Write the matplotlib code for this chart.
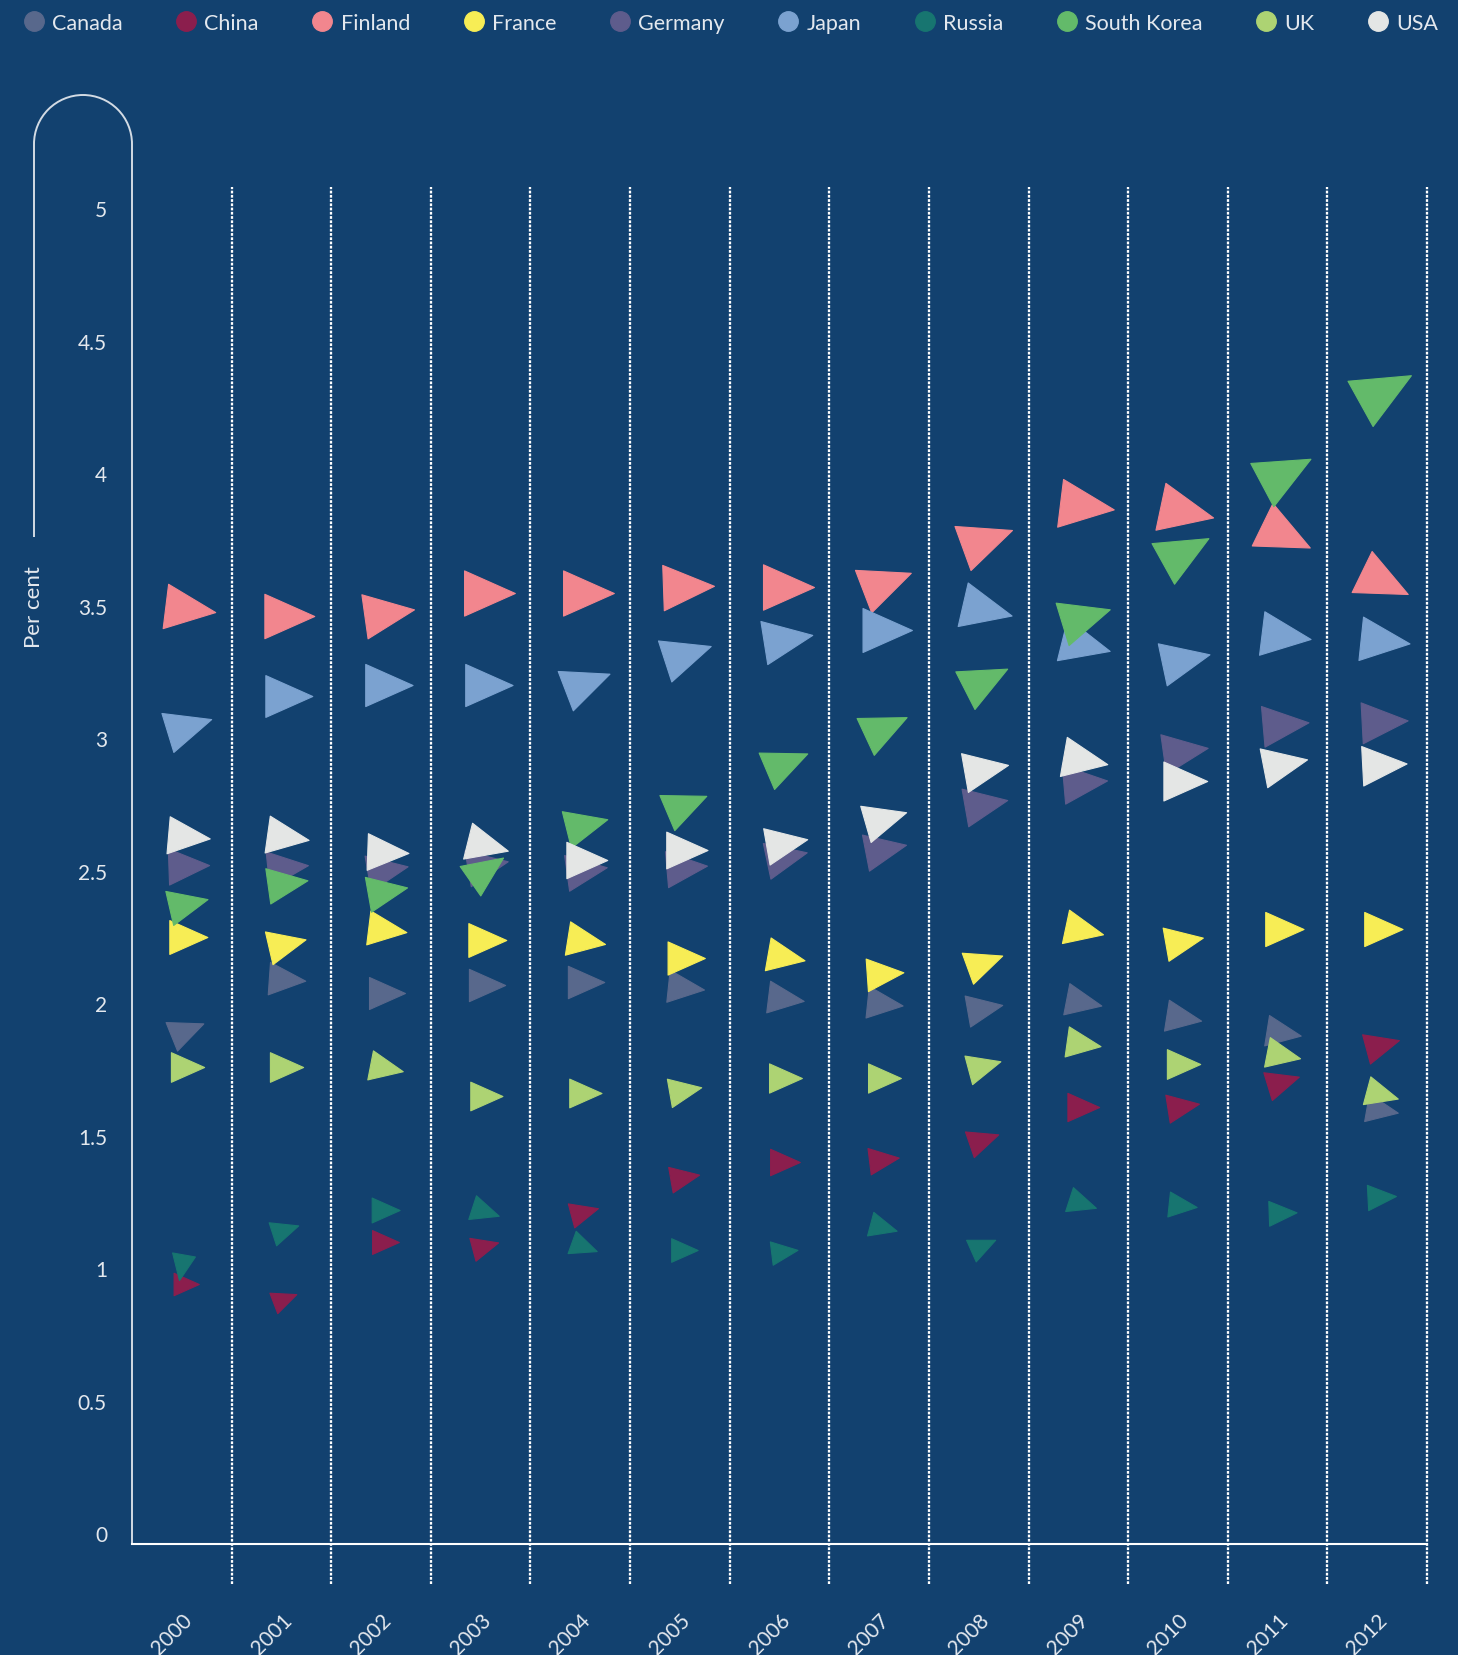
import matplotlib
matplotlib.use("Agg")
import matplotlib.pyplot as plt
import numpy as np
from matplotlib.path import Path
from matplotlib.markers import MarkerStyle
from matplotlib.transforms import Affine2D, blended_transform_factory
from matplotlib.patches import Arc
from matplotlib.lines import Line2D

plt.rcParams['font.family'] = ['Lato', 'DejaVu Sans']

# ---------------- data ----------------
years = [2000, 2001, 2002, 2003, 2004, 2005, 2006, 2007, 2008, 2009, 2010, 2011, 2012]
countries = ["Canada", "China", "Finland", "France", "Germany", "Japan",
             "Russia", "South Korea", "UK", "USA"]
colors = ["#58688C", "#8B1E4D", "#F2868E", "#F7ED55", "#5E5C8C", "#7BA2D0",
          "#177570", "#63BA6A", "#ADD373", "#E4E6E5"]

canada      = [1.89, 2.09, 2.04, 2.07, 2.08, 2.06, 2.02, 2.00, 1.98, 2.01, 1.95, 1.89, 1.60]
china       = [0.94, 0.88, 1.10, 1.08, 1.21, 1.34, 1.40, 1.41, 1.48, 1.61, 1.61, 1.70, 1.84]
finland     = [3.49, 3.46, 3.47, 3.55, 3.55, 3.57, 3.57, 3.58, 3.74, 3.88, 3.86, 3.78, 3.60]
france      = [2.25, 2.22, 2.28, 2.24, 2.24, 2.17, 2.18, 2.11, 2.15, 2.28, 2.23, 2.28, 2.28]
germany     = [2.52, 2.51, 2.50, 2.52, 2.50, 2.51, 2.55, 2.58, 2.75, 2.83, 2.95, 3.05, 3.06]
japan       = [3.04, 3.16, 3.20, 3.20, 3.20, 3.31, 3.37, 3.41, 3.49, 3.36, 3.29, 3.39, 3.37]
russia      = [1.02, 1.14, 1.22, 1.22, 1.09, 1.07, 1.06, 1.16, 1.08, 1.25, 1.24, 1.21, 1.27]
south_korea = [2.37, 2.45, 2.42, 2.49, 2.67, 2.74, 2.90, 3.03, 3.21, 3.45, 3.69, 3.99, 4.30]
uk          = [1.76, 1.76, 1.76, 1.65, 1.66, 1.67, 1.72, 1.72, 1.76, 1.85, 1.77, 1.81, 1.66]
usa         = [2.63, 2.63, 2.57, 2.60, 2.54, 2.58, 2.60, 2.69, 2.88, 2.92, 2.84, 2.90, 2.90]

# marker rotation (degrees, counter-clockwise)
rot_canada  = [22, -4, 0, 0, 0, -6, -7, -6, 10, -11, -9, -9, -10]
rot_china   = [0, 21, 0, 15, 15, 10, 0, 7, 19, 0, 9, 17, 15]
rot_finland = [-7, 0, 8, 0, 0, 2, 0, 21, 20, -7, -12, -26, -26]
rot_france  = [0, 13, -7, 0, -9, 0, -10, 4, 20, -12, 10, 0, 0]
rot_germany = [2, 6, 10, 10, 8, 5, 12, 11, 10, 5, 8, 5, 3]
rot_japan   = [17, 0, 0, 0, 21, 18, 9, 0, -13, -14, 12, -7, -6]
rot_russia  = [-100, 18, 0, -18, -20, 0, 7, -15, 24, -18, -6, 2, 3]
rot_korea   = [13, 8, 10, 35, 14, 23, 23, 25, 27, 17, 29, 28, 29]
rot_uk      = [0, 0, -11, 0, 0, 10, 0, 0, 15, -8, 0, -11, -15]
rot_usa     = [-5, -8, -2, -14, 0, 0, 10, 16, 10, -10, 0, 11, 3]

series = [canada, china, finland, france, germany, japan, russia, south_korea, uk, usa]
rotations = [rot_canada, rot_china, rot_finland, rot_france, rot_germany, rot_japan,
             rot_russia, rot_korea, rot_uk, rot_usa]
yticks = [0, 0.5, 1, 1.5, 2, 2.5, 3, 3.5, 4, 4.5, 5]

# ---------------- style ----------------
BG = "#12416F"
TXT = "#E3E8EE"
W, H = 1458, 1656

fig = plt.figure(figsize=(W / 100, H / 100), dpi=100)
fig.patch.set_facecolor(BG)

# overlay in pixel units for the decorative axis arc
ov = fig.add_axes([0, 0, 1, 1], zorder=0)
ov.set_xlim(0, W)
ov.set_ylim(H, 0)
ov.axis("off")
ov.patch.set_alpha(0)
line_col = "#D3DBE4"
ov.plot([34, 34], [538, 145], color=line_col, lw=1.4, solid_capstyle="butt")
ov.plot([132, 132], [145, 1545], color=line_col, lw=1.4, solid_capstyle="butt")
ov.add_patch(Arc((83, 145), 98, 98, theta1=180, theta2=360, color=line_col, lw=1.4))

ax = fig.add_axes([132 / W, (H - 1545) / H, (1427 - 132) / W, (1545 - 188) / H], zorder=1)
ax.patch.set_alpha(0)
ax.set_xlim(-0.5, len(years) - 0.5)
ax.set_ylim(-0.04, 5.08)
for s in ["top", "right", "left"]:
    ax.spines[s].set_visible(False)
ax.spines["bottom"].set_color("white")
ax.spines["bottom"].set_linewidth(1.5)

ax.set_yticks(yticks)
ax.set_yticklabels([f"{t:g}" for t in yticks])
ax.tick_params(axis="y", length=0, pad=18, labelsize=15, labelcolor=TXT)
ax.set_xticks([])

# dotted separators
ax.vlines(np.arange(0.5, len(years), 1.0), -0.19, 5.08, colors="white",
          linestyles=(0, (1.2, 0.65)), linewidth=1.65, clip_on=False)

# rotated year labels
bt = blended_transform_factory(ax.transData, ax.transAxes)
for i, yr in enumerate(years):
    ax.text(i - 0.1, -0.066, str(yr), transform=bt, rotation=45, ha="center",
            va="center", fontsize=15, color=TXT)

# triangle markers
tri = Path([(-1 / 3, 0.445), (2 / 3, 0.0), (-1 / 3, -0.445), (-1 / 3, 0.445)],
           [Path.MOVETO, Path.LINETO, Path.LINETO, Path.CLOSEPOLY])
for vals, rots, col in zip(series, rotations, colors):
    for i, (v, a) in enumerate(zip(vals, rots)):
        m = MarkerStyle(tri, transform=Affine2D().rotate_deg(a), joinstyle="round")
        ax.plot(i, v, ls="none", marker=m, ms=(16 + 9.8 * v) / 1.0417,
                mfc=col, mec=col, mew=0.8, clip_on=False)

# y label
fig.text(34 / W, 1 - 607 / H, "Per cent", rotation=90, ha="center", va="center",
         fontsize=16, color=TXT)

# legend
handles = [Line2D([], [], ls="none", marker="o", ms=14, mfc=c, mec=c) for c in colors]
fig.legend(handles, countries, loc="center left", bbox_to_anchor=(23 / W, 1 - 24 / H),
           ncol=10, frameon=False, fontsize=15.5, labelcolor=TXT, handlelength=1.0,
           handletextpad=0.35, columnspacing=2.45, borderpad=0, borderaxespad=0)

fig.savefig("out.png", dpi=100, facecolor=BG)
